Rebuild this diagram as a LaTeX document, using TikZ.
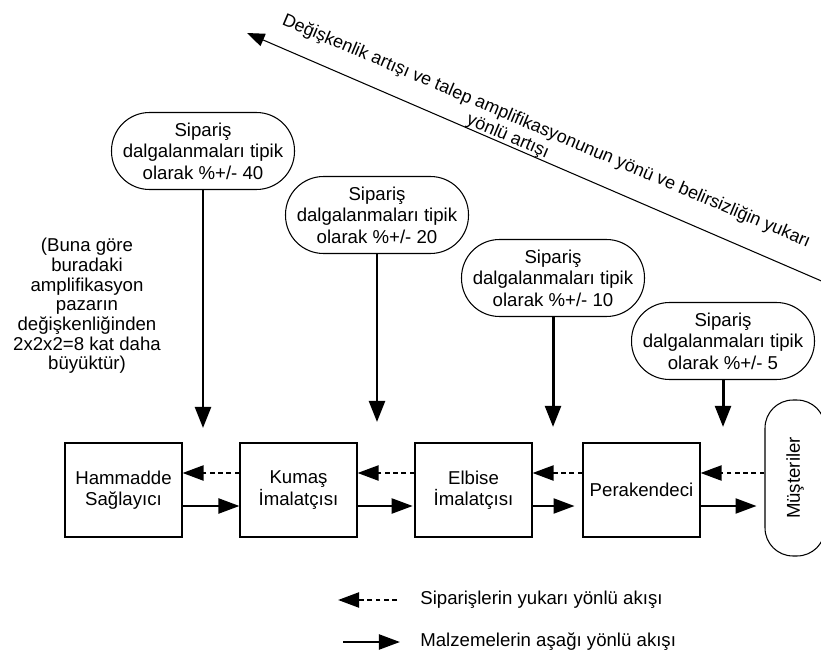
\documentclass[tikz,border=0pt]{standalone}
\usepackage{fontspec}
\setmainfont{Liberation Sans}
\usetikzlibrary{arrows.meta}

\begin{document}
\begin{tikzpicture}[x=0.02cm, y=-0.02cm,
    font=\fontsize{10.6}{12.2}\selectfont,
    firm/.style={draw, line width=0.6pt, minimum width=2.34cm, minimum height=1.88cm, align=center, inner sep=0pt},
    bubble/.style={draw, line width=0.6pt, rounded corners=0.76cm, minimum width=3.66cm, minimum height=1.54cm, align=center, inner sep=0pt},
    order/.style={line width=1.4pt, dash pattern=on 2.8pt off 1.9pt, -{Triangle[length=12pt,width=8.5pt]}},
    goods/.style={line width=1.4pt, -{Triangle[length=12pt,width=8.5pt]}},
    swing/.style={line width=1.7pt, -{Triangle[length=12pt,width=9pt]}},
    slant/.style={rotate=-23, inner sep=0pt, font=\fontsize{10.2}{12}\selectfont}]

        \useasboundingbox (0,0) rectangle (821,665);

        % Chain
        \node[firm] (ham) at (123.5,490) {Hammadde\\Sağlayıcı};
        \node[firm] (kum) at (298.5,490) {Kumaş\\İmalatçısı};
        \node[firm] (elb) at (473.5,490) {Elbise\\İmalatçısı};
        \node[firm] (per) at (641.5,490) {Perakendeci};
        \node[draw, line width=0.6pt, rounded corners=0.56cm, rotate=90, minimum width=3.12cm, minimum height=1.2cm] (mus) at (795,478) {Müşteriler};

        % Orders and goods
        \foreach \a/\b/\w in {ham/kum/west, kum/elb/west, elb/per/west, per/mus/north}{
            \draw[order] (\b.\w |- 0,473) -- (\a.east |- 0,473);
        }
        \foreach \a/\b/\w/\s in {ham/kum/west/0, kum/elb/west/1, elb/per/west/4.5, per/mus/north/4.5}{
            \draw[goods, shorten >=\s pt] (\a.east |- 0,506) -- (\b.\w |- 0,506);
        }

        % Fluctuations
        \foreach \n/\x/\y/\t/\p in {b1/203/151/428/40, b2/377/215/422/20, b3/553/278/427/10, b4/723/341/427/5}{
            \node[bubble] (\n) at (\x,\y) {Sipariş\\dalgalanmaları tipik\\olarak \%+/- \p};
            \coordinate (\n tip) at (\x,\t);
            \draw[swing] (\n) -- (\n tip);
        }

        \node[align=center, font=\fontsize{10.6}{11.2}\selectfont] (note) at (87,306) {(Buna göre\\buradaki\\amplifikasyon\\pazarın\\değişkenliğinden\\2x2x2=8 kat daha\\büyüktür)};

        % Trend
        \coordinate (up) at (247,33);
        \coordinate (low) at (840,289);
        \draw[line width=0.6pt, -{Triangle[length=10pt,width=7.5pt]}] (low) -- (up);
        \node[slant, anchor=base west] (trend) at (281,24) {Değişkenlik artışı ve talep amplifikasyonunun yönü ve belirsizliğin yukarı};
        \node[slant, anchor=base] (trendb) at (506,141) {yönlü artışı};

        % Legend
        \coordinate (lo1) at (397,600);
        \coordinate (lo2) at (338,600);
        \coordinate (lg1) at (343,642);
        \coordinate (lg2) at (400,642);
        \draw[order] (lo1) -- (lo2);
        \draw[goods] (lg1) -- (lg2);
        \node[anchor=west, inner sep=0pt] (lot) at (420,600) {Siparişlerin yukarı yönlü akışı};
        \node[anchor=west, inner sep=0pt] (lgt) at (420,642) {Malzemelerin aşağı yönlü akışı};

    \end{tikzpicture}
\end{document}
